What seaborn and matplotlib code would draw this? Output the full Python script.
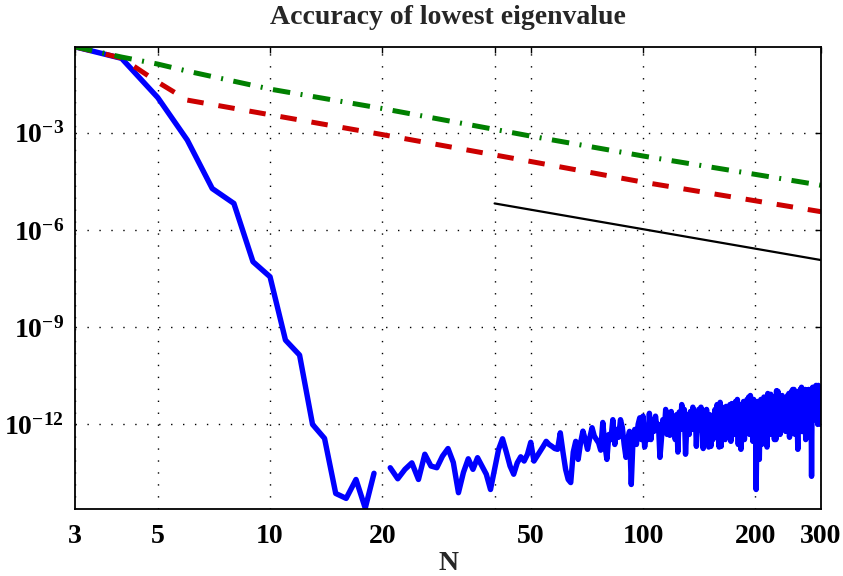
import numpy as np
import pandas as pd
import matplotlib
matplotlib.use("Agg")
import matplotlib.pyplot as plt
import seaborn as sns

# ---------------- data ----------------
N_head = [3, 4, 5, 6, 7, 8, 9, 10, 11, 12, 13, 14, 15, 16, 17, 18, 19]
blue_head = [0.45, 0.198, 0.0122, 5.96e-4, 1.9e-5, 6.6e-6, 1.05e-7, 3.6e-8,
             4.0e-10, 1.38e-10, 1.0e-12, 3.7e-13, 7.4e-15, 5.2e-15, 2.0e-14,
             2.6e-15, 3.1e-14]

N_tail = list(range(21, 301))
blue_tail = [
    4.6e-14, 2.1e-14, 4.1e-14, 6.5e-14, 2.0e-14, 1.2e-13, 5.2e-14, 4.6e-14, 1.05e-13, 1.8e-13,
    6.7e-14, 7.8e-15, 3.3e-14, 8.7e-14, 4.1e-14, 9.4e-14, 5.2e-14, 2.9e-14, 9.8e-15, 4.1e-14,
    1.7e-13, 3.6e-13, 1.4e-13, 5.2e-14, 2.9e-14, 6.5e-14, 1.0e-13, 7.4e-14, 1.2e-13, 2.8e-13,
    7.4e-14, 1.05e-13, 1.5e-13, 2.1e-13, 3.0e-13, 2.4e-13, 2.1e-13, 1.8e-13, 1.7e-13, 5.5e-13,
    1.4e-13, 4.1e-14, 2.0e-14, 1.6e-14, 1.4e-13, 3.0e-13, 8.3e-14, 2.7e-13, 6.2e-13, 3.4e-13,
    1.7e-13, 3.9e-13, 7.9e-13, 4.4e-13, 3.4e-13, 2.7e-13,
    1.6e-13, 1.15e-12, 2.4e-13, 8.3e-14,
    4.9e-13, 3.4e-13, 1.4e-12, 2.4e-13, 7.0e-13, 4.0e-13, 1.4e-12, 8.1e-13, 2.4e-13, 9.6e-14,
    3.4e-13, 6.1e-13, 1.4e-14, 3.4e-13, 7.0e-13, 2.4e-13, 1.0e-12, 1.6e-12, 3.4e-13, 1.8e-12,
    2.0e-13, 7.0e-13, 3.4e-13, 2.2e-12, 3.4e-13, 1.4e-12, 6.1e-13, 1.8e-12, 7.0e-13, 1.0e-12,
    9.6e-14, 3.4e-13, 1.4e-12, 5.7e-13, 2.9e-12, 4.9e-13, 1.6e-12, 4.6e-13, 2.5e-12, 7.0e-13,
    1.4e-12, 3.4e-13, 2.0e-12, 1.4e-13, 2.4e-12, 7.0e-13, 4.1e-12, 1.0e-12, 2.9e-12, 1.2e-13,
    8.1e-13, 2.0e-12, 4.9e-13, 2.5e-12, 7.0e-13, 3.4e-12, 1.0e-12, 2.5e-12, 2.1e-13, 1.4e-12,
    2.9e-12, 7.0e-13, 3.4e-12, 1.0e-12, 1.8e-13, 2.5e-12, 8.1e-13, 2.9e-12, 1.0e-12, 2.0e-13,
    2.0e-12, 2.1e-13, 1.6e-12, 3.4e-13, 7.0e-13, 2.9e-12, 4.9e-13, 4.1e-12, 7.0e-13, 2.0e-13,
    4.8e-12, 2.1e-13, 3.4e-12, 1.4e-12, 2.9e-12, 3.4e-13, 3.6e-12, 5.7e-13, 2.9e-12, 1.4e-12,
    4.1e-12, 3.0e-13, 4.4e-12, 1.6e-12, 2.9e-12, 4.9e-13, 5.1e-12, 2.0e-12, 5.9e-12, 2.4e-13,
    4.1e-12, 7.0e-13, 1.7e-13, 2.9e-12, 1.4e-12, 5.1e-12, 3.4e-13, 4.1e-12, 1.0e-12, 5.9e-12,
    1.6e-12, 7.0e-12, 4.9e-13, 7.8e-12, 1.4e-12, 5.1e-12, 3.0e-13, 5.9e-12, 7.0e-13, 4.1e-12,
    9.8e-15, 7.0e-13, 5.1e-12, 1.4e-12, 8.3e-14, 2.9e-12, 5.9e-12, 2.4e-13, 4.1e-12, 2.0e-12,
    7.0e-12, 1.4e-12, 5.9e-12, 2.9e-12, 2.0e-13, 9.0e-12, 2.9e-12, 7.8e-12, 4.9e-13, 8.5e-12,
    3.4e-12, 5.9e-12, 1.0e-12, 7.0e-12, 3.4e-13, 5.9e-12, 3.4e-13, 1.1e-11, 4.1e-12, 1.05e-11,
    2.0e-12, 7.0e-12, 4.9e-13, 5.9e-12, 2.9e-12, 7.8e-12, 1.6e-12, 5.9e-12, 2.9e-12, 5.1e-12,
    6.1e-13, 5.9e-12, 2.0e-12, 7.8e-12, 3.4e-12, 9.0e-12, 4.0e-13, 8.5e-12, 2.9e-12, 1.05e-11,
    4.1e-12, 1.2e-11, 2.0e-12, 1.2e-11, 5.0e-13, 7.0e-12, 2.5e-12, 8.5e-12, 1.4e-12, 1.7e-13,
    5.9e-12, 1.05e-11, 2.0e-12, 1.2e-11, 4.1e-12, 1.4e-11, 6.0e-13, 1.05e-11, 1.6e-12, 8.5e-12,
    4.1e-12, 1.2e-11, 3.4e-13, 5.9e-12, 2.9e-12, 1.05e-11, 1.4e-12, 1.2e-11, 4.1e-12, 8.5e-12,
    5.0e-13, 1.2e-11, 2.5e-14, 5.9e-12, 1.4e-11, 2.9e-12, 1.05e-11, 1.4e-12, 1.4e-11, 4.1e-12,
    1.6e-11, 2.0e-12, 1.2e-11, 1.0e-12, 1.6e-11, 5.9e-12, 1.4e-11, 1.4e-12, 1.2e-11, 1.0e-12,
]
assert len(blue_tail) == len(N_tail)

N_fd = [3, 4, 5, 6, 10, 20, 50, 100, 200, 300]
red_err = [0.45, 0.202, 0.0367, 0.0102, 3.6e-3, 8.8e-4, 1.3e-4, 3.0e-5, 7.96e-6, 3.67e-6]
green_err = [0.45, 0.217, 0.132, 0.080, 0.0223, 5.6e-3, 7.9e-4, 1.92e-4, 5.2e-5, 2.4e-5]

N_ref = [40, 300]
ref_err = [6.6e-6, 1.18e-7]

x_ticks = [3, 5, 10, 20, 40, 50, 100, 200, 300]
x_ticklabels = ["3", "5", "10", "20", "", "50", "100", "200", "300"]
y_ticks = [1e-12, 1e-9, 1e-6, 1e-3]
y_ticklabels = [r"$10^{-12}$", r"$10^{-9}$", r"$10^{-6}$", r"$10^{-3}$"]

# ---------------- style ----------------
sns.set_style("white")
plt.rcParams["font.family"] = ["Liberation Serif", "DejaVu Serif"]
plt.rcParams["font.weight"] = "bold"
plt.rcParams["mathtext.fontset"] = "custom"
plt.rcParams["mathtext.rm"] = "Liberation Serif:bold"
plt.rcParams["mathtext.it"] = "Liberation Serif:italic:bold"
plt.rcParams["mathtext.bf"] = "Liberation Serif:bold"

fig = plt.figure(figsize=(8.43, 5.76), dpi=100)
ax = fig.add_axes([75 / 843, 1 - 509 / 576, (821 - 75) / 843, (509 - 46.5) / 576])

df_head = pd.DataFrame({"N": N_head, "err": blue_head})
df_tail = pd.DataFrame({"N": N_tail, "err": blue_tail})
df_red = pd.DataFrame({"N": N_fd, "err": red_err})
df_green = pd.DataFrame({"N": N_fd, "err": green_err})
df_ref = pd.DataFrame({"N": N_ref, "err": ref_err})

lw = 3.6
sns.lineplot(data=df_head, x="N", y="err", ax=ax, color="#0000FF", lw=3.9,
             estimator=None, sort=False)
sns.lineplot(data=df_tail, x="N", y="err", ax=ax, color="#0000FF", lw=3.9,
             estimator=None, sort=False)
sns.lineplot(data=df_red, x="N", y="err", ax=ax, color="#CC0000", lw=lw,
             linestyle=(0, (3.3, 3.0)), estimator=None, sort=False,
             dash_capstyle="butt")
sns.lineplot(data=df_green, x="N", y="err", ax=ax, color="#008000", lw=lw,
             linestyle=(0, (3.5, 2.1, 0.4, 2.1)), estimator=None, sort=False,
             dash_capstyle="butt")
sns.lineplot(data=df_ref, x="N", y="err", ax=ax, color="black", lw=1.6,
             estimator=None, sort=False)

ax.set_xscale("log")
ax.set_yscale("log")
ax.set_xlim(3, 300)
ax.set_ylim(2.45e-15, 0.46)

ax.xaxis.set_minor_locator(matplotlib.ticker.NullLocator())
ax.yaxis.set_minor_locator(matplotlib.ticker.NullLocator())
ax.set_xticks(x_ticks)
ax.set_xticklabels(x_ticklabels)
ax.set_yticks(y_ticks)
ax.set_yticklabels(y_ticklabels)
ax.tick_params(axis="both", which="major", direction="in", length=4, width=1,
               top=True, right=True, labelsize=20, colors="black")
ax.tick_params(axis="x", pad=11)
ax.tick_params(axis="y", pad=8)
for lab in ax.get_xticklabels() + ax.get_yticklabels():
    lab.set_fontweight("bold")

ax.grid(True, which="major", color="black", linestyle=(0, (1, 7.6)), linewidth=1.0)
for sp in ax.spines.values():
    sp.set_visible(True)
    sp.set_color("black")
    sp.set_linewidth(1.3)

ax.set_xlabel("N", fontsize=20, fontweight="bold", labelpad=1)
ax.set_ylabel("")
ax.set_title("Accuracy of lowest eigenvalue", fontsize=20, fontweight="bold", pad=16)

fig.savefig("out.png", dpi=100)
